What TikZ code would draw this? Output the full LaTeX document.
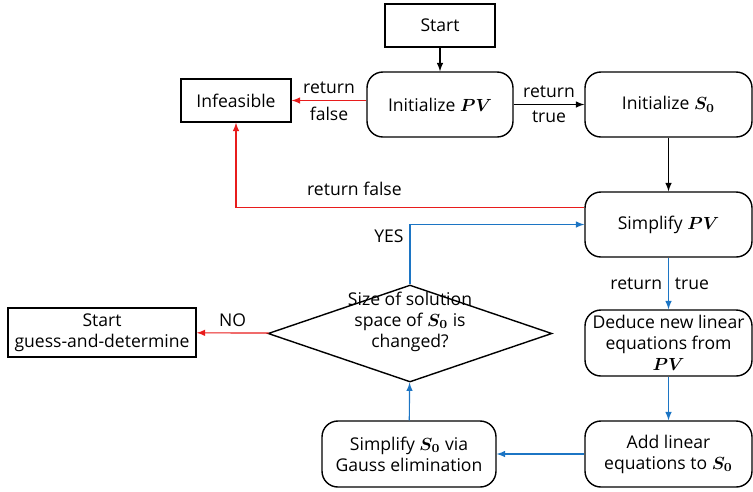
\documentclass[tikz,border=0pt]{standalone}
\usepackage{amsmath}
\usepackage{amssymb}
\usepackage{fontspec}
\setmainfont{Open Sans}
\usetikzlibrary{shapes.geometric}
\definecolor{falsered}{RGB}{232,28,28}
\definecolor{loopblue}{RGB}{28,117,196}

\begin{document}
\begin{tikzpicture}[x=0.02cm, y=-0.02cm, align=center,
    box/.style={draw, line width=0.8pt, inner sep=2pt},
    rbox/.style={box, rounded corners=9pt, minimum width=3.34cm, minimum height=1.3cm},
    decision/.style={draw, line width=0.8pt, diamond, aspect=2.9, inner sep=0pt, minimum width=5.68cm, minimum height=1.94cm},
    line/.style={-latex, line width=0.65pt}]
        \useasboundingbox (0,0) rectangle (753,491);

        \node[box, minimum width=2.2cm, minimum height=0.86cm](Start) at (440,25.5) {Start};
        \node[rbox, minimum width=2.92cm](Initialize PV) at (440,104.5) {Initialize $\boldsymbol{PV}$};
        \node[box, minimum width=2.2cm, minimum height=0.86cm](Infeasible) at (236,100.5) {Infeasible};
        \node[rbox](Initialize S0) at (668.5,104.5) {Initialize $\boldsymbol{S_0}$};
        \node[rbox](Simplify PV) at (668.5,224.5) {Simplify $\boldsymbol{PV}$};
        \node[rbox, minimum height=1.32cm](Deduce) at (668.5,343) {Deduce new linear\\equations from\\$\boldsymbol{PV}$};
        \node[rbox, minimum height=1.32cm](Add linear) at (668.5,454) {Add linear\\equations to $\boldsymbol{S_0}$};
        \node[rbox, minimum width=3.48cm, minimum height=1.32cm](Simplify S0) at (409,454) {Simplify $\boldsymbol{S_0}$ via\\Gauss elimination};
        \node[decision, label={[align=center, yshift=0.24cm]center:Size of solution\\space of $\boldsymbol{S_0}$ is\\changed?}](Size changed) at (410,333.5) {};
        \node[box, minimum width=3.76cm, minimum height=0.98cm](Guess) at (102,332.5) {Start\\guess-and-determine};

        \draw[line] (Start) -- (Initialize PV);
        \draw[line, draw=falsered] (Initialize PV.west |- Infeasible) -- node[above]{return} node[below]{false} (Infeasible);
        \draw[line] (Initialize PV) -- node[above]{return} node[below]{true} (Initialize S0);
        \draw[line] (Initialize S0) -- (Simplify PV);
        \draw[line, draw=falsered] ([yshift=9.6pt]Simplify PV.west) -| node[pos=0.33, above, yshift=3pt]{return false} (Infeasible);

        \draw[line, draw=loopblue] (Size changed.north) |- node[pos=0.4, left]{YES} (Simplify PV);
        \draw[line, draw=loopblue] (Simplify PV) -- node[left]{return} node[right]{true} (Deduce);
        \draw[line, draw=loopblue] (Deduce) -- (Add linear);
        \draw[line, draw=loopblue] (Add linear) -- (Simplify S0);
        \draw[line, draw=loopblue] (Simplify S0) -- (Size changed);
        \draw[line, draw=falsered] (Size changed) -- node[above]{NO} (Guess);
    \end{tikzpicture}
\end{document}
